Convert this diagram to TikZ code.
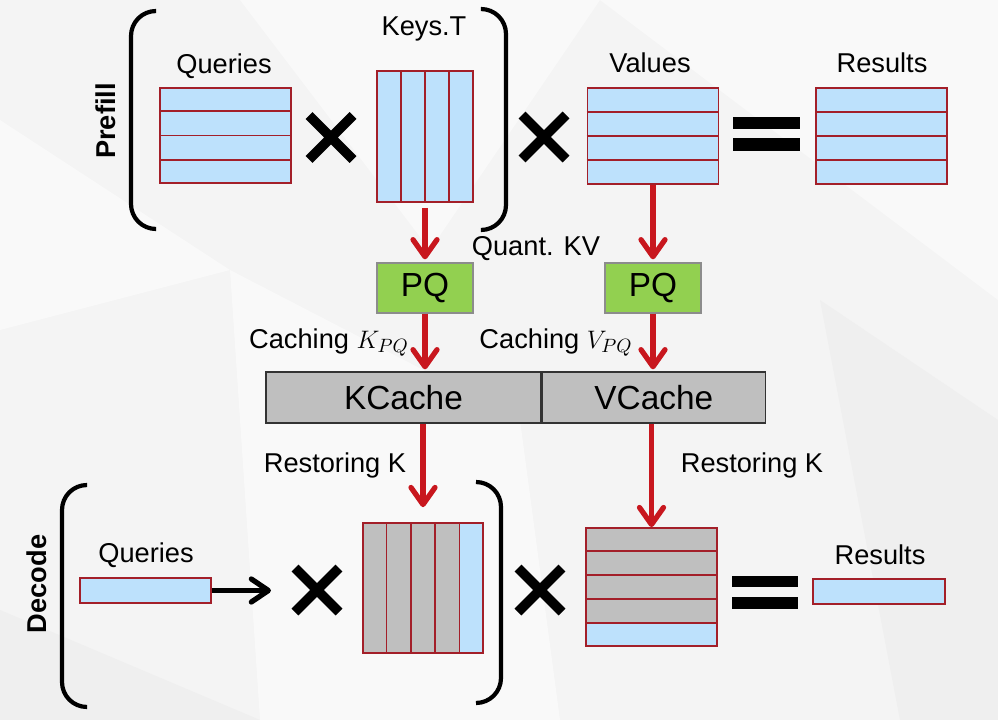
\documentclass[tikz,border=0pt]{standalone}
\usepackage{fontspec}
\setmainfont{Liberation Sans}
\usetikzlibrary{arrows.meta,calc}
\definecolor{CellBlue}{HTML}{BDE1FC}
\definecolor{CellGray}{HTML}{BFBFBF}
\definecolor{CellRed}{HTML}{A31F29}
\definecolor{ArrowRed}{HTML}{C8171E}
\definecolor{PQGreen}{HTML}{92D050}
\definecolor{BgGray}{HTML}{F4F4F4}
\definecolor{BgLight}{HTML}{F9F9F9}
\definecolor{BgDark}{HTML}{EFEFEF}

\begin{document}
\begin{tikzpicture}[x=0.02cm, y=-0.02cm,
  every node/.style={inner sep=0pt, font=\fontsize{15.5}{18}\selectfont},
  stage/.style={rotate=90, font=\fontsize{15.5}{18}\selectfont\bfseries},
  mat/.style={draw=CellRed, line width=1pt, fill=CellBlue},
  gmat/.style={mat, fill=CellGray},
  cellline/.style={CellRed, line width=1.1pt},
  pqbox/.style={draw=black!45, line width=0.8pt, fill=PQGreen, minimum width=1.92cm, minimum height=1cm, font=\fontsize{19}{22}\selectfont},
  cachebox/.style={draw=black!80, line width=0.8pt, fill=CellGray, minimum height=1.02cm, font=\fontsize{19}{22}\selectfont},
  flow/.style={ArrowRed, line width=3pt, -{Straight Barb[length=0.34cm, width=0.48cm, round]}},
  paren/.style={line width=2.4pt, rounded corners=0.5cm},
  xstroke/.style={line width=5.6pt}]

% background
\fill[BgGray] (0,0) rectangle (998,720);
\fill[BgLight] (0,120) -- (230,270) -- (0,330) -- cycle;
\fill[BgLight] (240,0) -- (600,0) -- (430,250) -- cycle;
\fill[BgLight] (230,270) -- (520,420) -- (560,720) -- (260,720) -- cycle;
\fill[BgDark] (0,610) -- (260,720) -- (0,720) -- cycle;
\fill[BgLight] (600,0) -- (998,0) -- (998,300) -- cycle;
\fill[BgDark] (820,300) -- (998,420) -- (998,720) -- (900,720) -- cycle;
\useasboundingbox (0,0) rectangle (998,720);

% prefill row
\node[stage] (prefill) at (106,121) {Prefill};
\draw[paren] (155,11) -| (131,120) |- (155,229);
\draw[paren] (482,9) -| (506,120) |- (482,230);

\node[anchor=base] (qplbl) at (224,73) {Queries};
\node[mat, minimum width=2.62cm, minimum height=1.9cm] (qp) at (225.5,135.5) {};
\foreach \i in {1,2,3}
  \draw[cellline] ($(qp.north west)!\i/4!(qp.south west)$) -- ($(qp.north east)!\i/4!(qp.south east)$);

\node[anchor=base] (kplbl) at (424,35) {Keys.T};
\node[mat, minimum width=1.92cm, minimum height=2.62cm] (kp) at (425,136.5) {};
\foreach \i in {1,2,3}
  \draw[cellline] ($(kp.north west)!\i/4!(kp.north east)$) -- ($(kp.south west)!\i/4!(kp.south east)$);

\node[anchor=base] (vplbl) at (650,72) {Values};
\node[mat, minimum width=2.62cm, minimum height=1.92cm] (vp) at (653,136) {};
\foreach \i in {1,2,3}
  \draw[cellline] ($(vp.north west)!\i/4!(vp.south west)$) -- ($(vp.north east)!\i/4!(vp.south east)$);

\node[anchor=base] (rplbl) at (882,72) {Results};
\node[mat, minimum width=2.62cm, minimum height=1.92cm] (rp) at (881.5,136) {};
\foreach \i in {1,2,3}
  \draw[cellline] ($(rp.north west)!\i/4!(rp.south west)$) -- ($(rp.north east)!\i/4!(rp.south east)$);

\foreach \c in {(331,137.5),(544,137)}
  \draw[xstroke] \c ++(-22,-22) -- ++(44,44) \c ++(22,-22) -- ++(-44,44);
\fill (733,117) rectangle (800,129);
\fill (733,138) rectangle (800,151);

% quantisation and cache
\node[anchor=base] (quant) at (536,255) {Quant. KV};
\node[pqbox] (pqk) at (425,288) {PQ};
\node[pqbox] (pqv) at (653,288) {PQ};
\node[anchor=base] (cachek) at (329,348) {Caching $K_{PQ}$};
\node[anchor=base] (cachev) at (556,348) {Caching $V_{PQ}$};
\node[cachebox, minimum width=5.5cm] (kc) at (403.5,397.5) {KCache};
\node[cachebox, minimum width=4.46cm, anchor=west] (vc) at (kc.east) {VCache};
\node[anchor=base] (restk) at (335,472) {Restoring K};
\node[anchor=base] (restv) at (752,472) {Restoring K};

% decode row
\node[stage] (decode) at (37,584) {Decode};
\draw[paren] (87,485) -| (62,596) |- (87,707);
\draw[paren] (476,482) -| (501,592) |- (476,703);

\node[anchor=base] (qdlbl) at (146,562) {Queries};
\node[mat, minimum width=2.62cm, minimum height=0.5cm] (qd) at (145.5,590.5) {};
\coordinate (qdend) at (271,590.5);

\node[gmat, minimum width=2.4cm, minimum height=2.6cm,
  path picture={\fill[CellBlue] ($(path picture bounding box.north west)!0.8!(path picture bounding box.north east)$) rectangle (path picture bounding box.south east);}] (kd) at (423,588) {};
\foreach \i in {1,2,3,4}
  \draw[cellline] ($(kd.north west)!\i/5!(kd.north east)$) -- ($(kd.south west)!\i/5!(kd.south east)$);

\node[gmat, minimum width=2.62cm, minimum height=2.36cm,
  path picture={\fill[CellBlue] ($(path picture bounding box.north west)!0.8!(path picture bounding box.south west)$) rectangle (path picture bounding box.south east);}] (vd) at (651.5,587) {};
\foreach \i in {1,2,3,4}
  \draw[cellline] ($(vd.north west)!\i/5!(vd.south west)$) -- ($(vd.north east)!\i/5!(vd.south east)$);

\node[anchor=base] (rdlbl) at (880,564) {Results};
\node[mat, minimum width=2.64cm, minimum height=0.5cm] (rd) at (879,591.5) {};

\foreach \c in {(317,590),(540,590)}
  \draw[xstroke] \c ++(-22,-22) -- ++(44,44) \c ++(22,-22) -- ++(-44,44);
\fill (732,576) rectangle (798,587);
\fill (732,597) rectangle (798,609);

% arrows
\draw[flow, shorten <=0.1cm, shorten >=0.06cm] (kp.south) -- (pqk.north);
\draw[flow, shorten >=0.06cm] (vp.south) -- (vp.south |- pqv.north);
\draw[flow, shorten >=0.04cm] (pqk.south) -- (pqk.south |- kc.north);
\draw[flow, shorten >=0.04cm] (pqv.south) -- (pqv.south |- vc.north);
\draw[flow, shorten >=0.3cm] (kd.north |- kc.south) -- (kd.north);
\draw[flow] (vd.north |- vc.south) -- (vd.north);
\draw[line width=3pt, -{Straight Barb[length=0.34cm, width=0.46cm, round]}] (qd.east) -- (qdend);
\end{tikzpicture}
\end{document}
